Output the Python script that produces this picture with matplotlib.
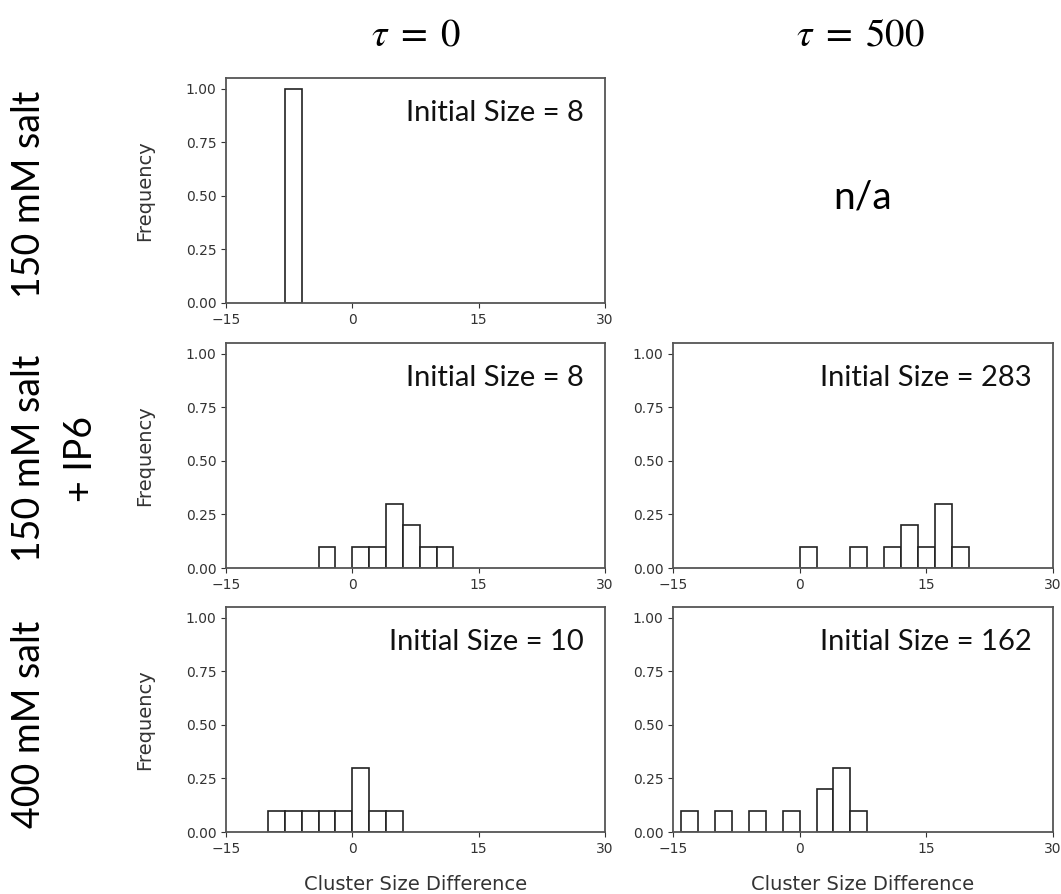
import numpy as np
import matplotlib
matplotlib.use("Agg")
import matplotlib.pyplot as plt

# histogram data: left edge of each bin (width 2) and its frequency
bin_width = 2
salt150_t0_left = [-8]
salt150_t0_freq = [1.0]
ip6_t0_left = [-4, 0, 2, 4, 6, 8, 10]
ip6_t0_freq = [0.1, 0.1, 0.1, 0.3, 0.2, 0.1, 0.1]
ip6_t500_left = [0, 6, 10, 12, 14, 16, 18]
ip6_t500_freq = [0.1, 0.1, 0.1, 0.2, 0.1, 0.3, 0.1]
salt400_t0_left = [-10, -8, -6, -4, -2, 0, 2, 4]
salt400_t0_freq = [0.1, 0.1, 0.1, 0.1, 0.1, 0.3, 0.1, 0.1]
salt400_t500_left = [-14, -10, -6, -2, 2, 4, 6]
salt400_t500_freq = [0.1, 0.1, 0.1, 0.1, 0.2, 0.3, 0.1]

initial_sizes = {"ip6_t0": 8, "ip6_t500": 283, "s150_t0": 8, "s400_t0": 10, "s400_t500": 162}
col_titles = [r"$\tau\;=\;0$", r"$\tau\;=\;500$"]
row_titles = ["150 mM salt", "150 mM salt", "400 mM salt"]
row2_extra = "+ IP6"

plt.rcParams["mathtext.fontset"] = "stix"
W, H = 1061, 894
fig = plt.figure(figsize=(W / 100, H / 100), dpi=100)

col_left = [226 / W, 673 / W]
col_w = [379 / W, 380 / W]
row_bottom = [1 - 303 / H, 1 - 568 / H, 1 - 832 / H]
row_h = 225 / H

panels = [
    (0, 0, salt150_t0_left, salt150_t0_freq, initial_sizes["s150_t0"]),
    (1, 0, ip6_t0_left, ip6_t0_freq, initial_sizes["ip6_t0"]),
    (1, 1, ip6_t500_left, ip6_t500_freq, initial_sizes["ip6_t500"]),
    (2, 0, salt400_t0_left, salt400_t0_freq, initial_sizes["s400_t0"]),
    (2, 1, salt400_t500_left, salt400_t500_freq, initial_sizes["s400_t500"]),
]

edge = "#333333"
for r, c, left, freq, size in panels:
    ax = fig.add_axes([col_left[c], row_bottom[r], col_w[c], row_h])
    ax.bar(left, freq, width=bin_width, align="edge", facecolor="white",
           edgecolor="#222222", linewidth=1.2)
    ax.set_xlim(-15, 30)
    ax.set_ylim(0, 1.05)
    ax.set_xticks([-15, 0, 15, 30])
    ax.set_yticks([0, 0.25, 0.5, 0.75, 1.0])
    ax.set_yticklabels(["0.00", "0.25", "0.50", "0.75", "1.00"])
    ax.tick_params(labelsize=10, colors=edge, labelcolor="#333333")
    for s in ax.spines.values():
        s.set_color("#555555")
        s.set_linewidth(1.3)
    ax.text(0.943, 0.81, f"Initial Size = {size}", transform=ax.transAxes,
            ha="right", va="baseline", fontsize=21, family="Lato", color="#111111")
    if c == 0:
        ax.set_ylabel("Frequency", fontsize=14, color="#333333")
        ax.yaxis.set_label_coords(-0.19, 0.5)
    if r == 2:
        ax.set_xlabel("Cluster Size Difference", fontsize=14, color="#333333")
        ax.xaxis.set_label_coords(0.5, -0.19)

# column headers
fig.text(416 / W, 1 - 34 / H, col_titles[0], ha="center", va="center", fontsize=28)
fig.text(860 / W, 1 - 34 / H, col_titles[1], ha="center", va="center", fontsize=28)

# row headers
row_y = [194, 458, 724]
for t, y in zip(row_titles, row_y):
    fig.text(29 / W, 1 - y / H, t, rotation=90, ha="center", va="center",
             fontsize=27, family="Lato")
fig.text(81 / W, 1 - 459 / H, row2_extra, rotation=90, ha="center", va="center",
         fontsize=27, family="Lato")

fig.text(863 / W, 1 - 198 / H, "n/a", ha="center", va="center", fontsize=28, family="Lato")

fig.savefig("out.png", dpi=100)
